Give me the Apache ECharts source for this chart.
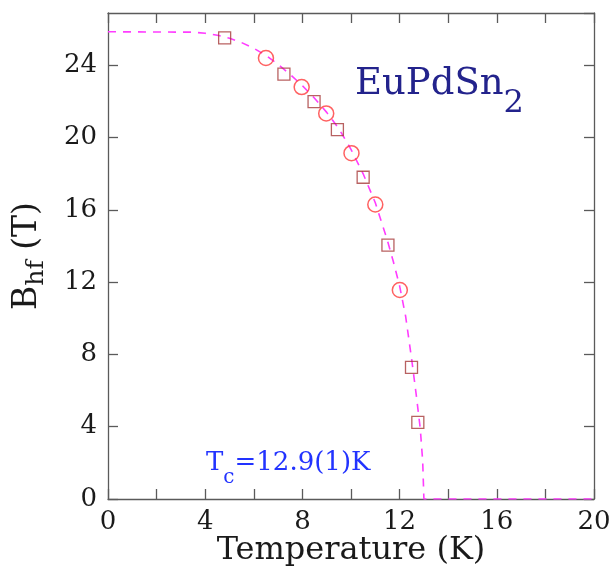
<!DOCTYPE html>
<html lang="en">
<head>
    <meta charset="UTF-8">
    <title>EuPdSn2 Bhf vs T</title>
    <script src="https://cdn.jsdelivr.net/npm/echarts@6/dist/echarts.min.js"></script>
    <style>
        html, body { margin: 0; padding: 0; background: #fff; }
        #chart { width: 614px; height: 573px; }
    </style>
</head>
<body>
<div id="chart"></div>
<script type="text/javascript">
    // measured points (open squares)
    var sqT = [4.8, 7.24, 8.48, 9.44, 10.5, 11.52, 12.49, 12.75];
    var sqB = [25.52, 23.52, 22.0, 20.45, 17.81, 14.05, 7.29, 4.24];

    // measured points (open circles)
    var ciT = [6.5, 7.97, 8.98, 10.02, 11.0, 12.01];
    var ciB = [24.41, 22.8, 21.34, 19.14, 16.3, 11.57];

    // dashed fit curve
    var fitT = [0, 3.5, 4.0, 4.5, 5.0, 5.5, 6.0, 6.5, 7.0, 7.5, 8.0, 8.5, 9.0, 9.5, 10.0,
        10.5, 11.0, 11.5, 11.75, 12.0, 12.25, 12.5, 12.7, 12.85, 12.95, 13.0, 20];
    var fitB = [25.86, 25.84, 25.78, 25.67, 25.5, 25.26, 24.95, 24.55, 24.05, 23.5, 22.88, 22.18, 21.4, 20.5, 19.35,
        18.0, 16.4, 14.3, 13.1, 11.8, 10.1, 7.7, 5.6, 3.9, 2.1, 0, 0];

    var xTicks = [0, 4, 8, 12, 16, 20];
    var yTicks = [0, 4, 8, 12, 16, 20, 24];

    function zip(a, b) {
        var out = [];
        for (var i = 0; i < a.length; i++) out.push([a[i], b[i]]);
        return out;
    }

    var serif = 'DejaVu Serif';
    var axisGrey = '#5a5a5a';

    var myChart = echarts.init(document.getElementById('chart'));

    function frameAxis(pos) {
        return {
            type: 'value',
            position: pos,
            axisLine: { show: true, onZero: false, lineStyle: { color: axisGrey, width: 1.3 } },
            axisTick: { show: true, inside: true, length: 10, lineStyle: { color: axisGrey, width: 1.3 } },
            axisLabel: { show: false },
            splitLine: { show: false }
        };
    }

    var xTop = frameAxis('top');
    xTop.min = 0; xTop.max = 20; xTop.interval = 2;
    var yRight = frameAxis('right');
    yRight.min = 0; yRight.max = 26.9; yRight.interval = 4;

    myChart.setOption({
        animation: false,
        backgroundColor: '#fff',
        grid: { left: 108, right: 20, top: 13, bottom: 74, outerBoundsMode: 'none' },
        xAxis: [
            {
                type: 'value', min: 0, max: 20, interval: 2, position: 'bottom',
                axisLine: { show: true, onZero: false, lineStyle: { color: axisGrey, width: 1.3 } },
                axisTick: { show: true, inside: true, length: 10, lineStyle: { color: axisGrey, width: 1.3 } },
                axisLabel: {
                    margin: 10, fontFamily: serif, fontSize: 26, color: '#1a1a1a',
                    formatter: function (v) { return xTicks.indexOf(v) >= 0 ? String(v) : ''; }
                },
                splitLine: { show: false },
                name: 'Temperature (K)', nameLocation: 'middle', nameGap: 36, nameMoveOverlap: false,
                nameTextStyle: { fontFamily: serif, fontSize: 32, color: '#1a1a1a' }
            },
            xTop
        ],
        yAxis: [
            {
                type: 'value', min: 0, max: 26.9, interval: 4, position: 'left',
                axisLine: { show: true, onZero: false, lineStyle: { color: axisGrey, width: 1.3 } },
                axisTick: { show: true, inside: true, length: 10, lineStyle: { color: axisGrey, width: 1.3 } },
                axisLabel: {
                    margin: 11, fontFamily: serif, fontSize: 26, color: '#1a1a1a', showMaxLabel: false,
                    formatter: function (v) { return yTicks.indexOf(v) >= 0 ? String(v) : ''; }
                },
                splitLine: { show: false },
                name: '{b|B}{s|hf} {b|(T)}', nameLocation: 'middle', nameGap: 59, nameRotate: 90,
                nameMoveOverlap: false,
                nameTextStyle: {
                    fontFamily: serif, fontSize: 33, color: '#1a1a1a',
                    rich: {
                        b: { fontFamily: serif, fontSize: 33, color: '#1a1a1a', lineHeight: 44 },
                        s: { fontFamily: serif, fontSize: 25, color: '#1a1a1a', lineHeight: 24, verticalAlign: 'bottom' }
                    }
                }
            },
            yRight
        ],
        graphic: [
            {
                type: 'text', left: 355, top: 66,
                style: {
                    text: '{m|EuPdSn}{s|2}',
                    rich: {
                        m: { fontFamily: serif, fontSize: 37, fill: '#23238c', lineHeight: 70 },
                        s: { fontFamily: serif, fontSize: 32, fill: '#23238c', lineHeight: 32, verticalAlign: 'bottom' }
                    }
                }
            },
            {
                type: 'text', left: 206, top: 450,
                style: {
                    text: '{t|T}{s|c}{t|=12.9(1)K}',
                    rich: {
                        t: { fontFamily: serif, fontSize: 26, fill: '#2233ff', lineHeight: 50 },
                        s: { fontFamily: serif, fontSize: 20, fill: '#2233ff', lineHeight: 20, verticalAlign: 'bottom' }
                    }
                }
            }
        ],
        series: [
            {
                name: 'fit', type: 'line', data: zip(fitT, fitB),
                showSymbol: false, smooth: false, z: 3,
                lineStyle: { color: '#ff3cff', width: 1.6, type: [8, 7] }
            },
            {
                name: 'squares', type: 'scatter', data: zip(sqT, sqB),
                symbol: 'rect', symbolSize: 12, z: 4,
                itemStyle: { color: 'rgba(0,0,0,0)', borderColor: '#a63a3a', borderWidth: 1.3 }
            },
            {
                name: 'circles', type: 'scatter', data: zip(ciT, ciB),
                symbol: 'circle', symbolSize: 15, z: 4,
                itemStyle: { color: 'rgba(0,0,0,0)', borderColor: '#ff3a3a', borderWidth: 1.5 }
            }
        ]
    });
</script>
</body>
</html>
